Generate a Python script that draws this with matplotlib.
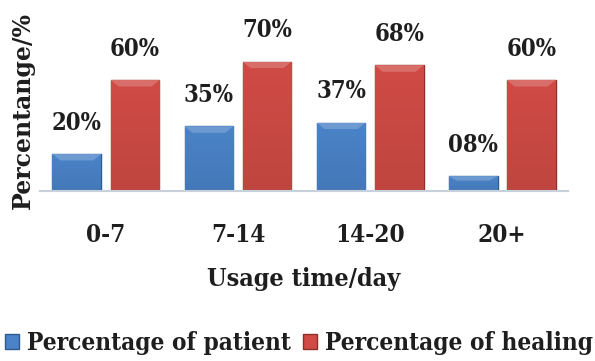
import matplotlib
matplotlib.use("Agg")
import matplotlib.pyplot as plt
from matplotlib import font_manager
import numpy as np

# Usage time groups and the two series (percent)
groups = ["0-7", "7-14", "14-20", "20+"]
patient = [20, 35, 37, 8]
healing = [60, 70, 68, 60]
patient_labels = ["20%", "35%", "37%", "08%"]
healing_labels = ["60%", "70%", "68%", "60%"]

blue = "#4a83c8"
red = "#d04b45"
serif = "DejaVu Serif"
ink = "#1e1e1e"


def cond(size):
    return font_manager.FontProperties(family=serif, weight="bold",
                                       stretch="condensed", size=size)


fig = plt.figure(figsize=(5.95, 3.61), dpi=100)
ax = fig.add_axes([0.067, 0.471, 0.888, 0.512])

x = np.arange(len(groups))
width = 0.37
gap = 0.07


def bevel_bars(bars, color):
    # lighter gradient toward the top of each bar, clipped to the bar shape
    base = np.array(matplotlib.colors.to_rgb(color))
    grad = np.linspace(0, 1, 64)[:, None]
    for b in bars:
        x0, y0 = b.get_x(), b.get_y()
        w, h = b.get_width(), b.get_height()
        rgb = base[None, None, :] * (0.92 + 0.08 * grad[:, :, None])
        rgb = np.clip(rgb, 0, 1)
        img = ax.imshow(np.repeat(rgb, 2, axis=1), extent=(x0, x0 + w, y0, y0 + h),
                        origin="lower", aspect="auto", zorder=2)
        img.set_clip_path(b)
        # top bevel band
        top = min(3.5, h * 0.3)
        ax.fill([x0, x0 + w, x0 + w - 0.06, x0 + 0.06],
                [y0 + h, y0 + h, y0 + h - top, y0 + h - top],
                color="white", alpha=0.2, lw=0, zorder=3)


b1 = ax.bar(x - (width + gap) / 2, patient, width, color=blue,
            edgecolor="#2f5a8e", linewidth=1.0, zorder=2)
b2 = ax.bar(x + (width + gap) / 2, healing, width, color=red,
            edgecolor="#8e2f2b", linewidth=1.0, zorder=2)
bevel_bars(b1, blue)
bevel_bars(b2, red)

for bars, labels in ((b1, patient_labels), (b2, healing_labels)):
    for b, lab in zip(bars, labels):
        ax.text(b.get_x() + b.get_width() / 2, b.get_height() + 10.5, lab,
                ha="center", va="bottom", fontproperties=cond(17), color=ink)

ax.set_xlim(-0.5, 3.5)
ax.set_ylim(0, 100)
ax.set_xticks(x)
ax.set_xticklabels(groups, fontproperties=cond(17.5), color=ink)
ax.tick_params(axis="x", length=0, pad=23)
ax.set_yticks([])
for s in ["top", "right", "left"]:
    ax.spines[s].set_visible(False)
ax.spines["bottom"].set_color("#c8d0dc")
ax.spines["bottom"].set_linewidth(1.5)

ax.set_xlabel("Usage time/day", fontproperties=cond(18), color=ink, va="center")
ax.xaxis.set_label_coords(0.5, -0.476)
fig.text(0.039, 0.695, "Percentange/%", rotation=90, ha="center", va="center",
         fontsize=17, fontweight="bold", family=serif, color=ink)

leg = fig.legend([b1[0], b2[0]], ["Percentage of patient", "Percentage of healing"],
                 loc="center", bbox_to_anchor=(0.502, 0.05), ncol=2, frameon=False,
                 prop=cond(17.5), handlelength=0.6, handleheight=0.6,
                 handletextpad=0.3, columnspacing=0.5, borderaxespad=0,
                 borderpad=0)
for t in leg.get_texts():
    t.set_color(ink)

fig.savefig("out.png", dpi=100)
